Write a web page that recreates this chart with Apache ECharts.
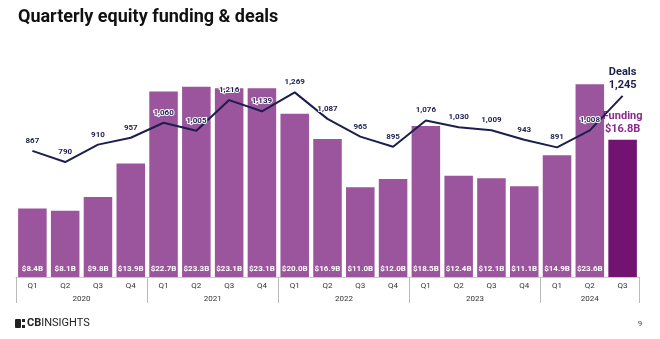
<!DOCTYPE html>
<html>
<head>
<meta charset="utf-8">
<script src="https://cdn.jsdelivr.net/npm/echarts@6/dist/echarts.min.js"></script>
<style>html,body{margin:0;padding:0;background:#fff}#c{width:660px;height:339px}</style>
</head>
<body>
<div id="c"></div>
<script>
const quarters = ['Q1','Q2','Q3','Q4','Q1','Q2','Q3','Q4','Q1','Q2','Q3','Q4','Q1','Q2','Q3','Q4','Q1','Q2','Q3'];
const years = ['2020','2021','2022','2023','2024'];
const quartersPerYear = [4,4,4,4,3];
const funding = [8.4,8.1,9.8,13.9,22.7,23.3,23.1,23.1,20.0,16.9,11.0,12.0,18.5,12.4,12.1,11.1,14.9,23.6,16.8];
const deals = [867,790,910,957,1060,1005,1216,1139,1269,1087,965,895,1076,1030,1009,943,891,1008,1245];

const BAR = '#9b559c', BAR_LAST = '#721372', NAVY = '#1c1f4e', FUND_TXT = '#8a2a8c';
const n = funding.length;

const bounds = [0]; quartersPerYear.forEach(q => bounds.push(bounds[bounds.length-1] + q));
const centres = years.map((y,i) => (bounds[i] + bounds[i+1]) / 2);

const chart = echarts.init(document.getElementById('c'), null, {renderer:'canvas'});
chart.setOption({
  animation: false,
  title: {
    text: 'Quarterly equity funding & deals', left: 13, top: 3,
    textStyle: {fontFamily:'Roboto', fontWeight:'bold', fontSize:18, color:'#111'}
  },
  grid: {left: 16, right: 21, top: 32, bottom: 62},
  xAxis: [{
    type: 'category', data: quarters, boundaryGap: true,
    axisLine: {show: true, lineStyle: {color: '#c8c8c8', width: 1}},
    axisTick: {show: false},
    axisLabel: {interval: 0, margin: 5, fontFamily:'Roboto', fontSize: 8, color: '#333'}
  }, {
    type: 'value', min: 0, max: n, position: 'bottom',
    axisLine: {show: false}, splitLine: {show: false},
    axisTick: {show: true, customValues: bounds, length: 26, inside: false, lineStyle: {color: '#bbb', width: 1}},
    axisLabel: {
      customValues: centres, margin: 18, fontFamily:'Roboto', fontSize: 8, color: '#333',
      formatter: v => { const i = centres.indexOf(v); return i >= 0 ? years[i] : ''; }
    }
  }],
  yAxis: [
    {type: 'value', min: 0, max: 30, show: false, splitLine: {show: false}},
    {type: 'value', min: 0, max: 1684, show: false, splitLine: {show: false}}
  ],
  series: [{
    type: 'bar', xAxisIndex: 0, yAxisIndex: 0, barCategoryGap: '13%',
    data: funding.map((v, i) => i === n - 1 ? {
      value: v, itemStyle: {color: BAR_LAST},
      label: {show: true, position: 'top', distance: 4, color: FUND_TXT, fontSize: 11, fontWeight: 'bold',
        fontFamily: 'Roboto', lineHeight: 13, formatter: p => 'Funding\n$' + p.value.toFixed(1) + 'B'}
    } : v),
    itemStyle: {color: BAR},
    label: {show: true, position: 'insideBottom', distance: 4, color: '#fff', fontSize: 8, fontWeight: 'bold',
      fontFamily: 'Roboto', formatter: p => '$' + p.value.toFixed(1) + 'B'}
  }, {
    type: 'line', xAxisIndex: 0, yAxisIndex: 1, symbol: 'circle', symbolSize: 0, showSymbol: true,
    itemStyle: {color: NAVY},
    lineStyle: {color: NAVY, width: 2},
    labelLayout: {hideOverlap: false},
    data: deals.map((v, i) => i === n - 1 ? {
      value: v,
      label: {show: true, position: 'top', distance: 4, color: NAVY, fontSize: 11, fontWeight: 'bold',
        fontFamily: 'Roboto', lineHeight: 13, textBorderWidth: 0,
        formatter: p => 'Deals\n' + p.value.toLocaleString('en-US')}
    } : v),
    label: {show: true, position: 'top', distance: 6, color: NAVY, fontSize: 8, fontWeight: 'bold',
      fontFamily: 'Roboto', textBorderColor: '#fff', textBorderWidth: 2,
      formatter: p => p.value.toLocaleString('en-US')}
  }],
  graphic: [
    {type: 'rect', shape: {x: 15, y: 319, width: 6, height: 9, r: 1}, style: {fill: '#222'}},
    {type: 'rect', shape: {x: 22, y: 319, width: 3, height: 3}, style: {fill: '#222'}},
    {type: 'rect', shape: {x: 22, y: 325, width: 3, height: 3}, style: {fill: '#222'}},
    {type: 'text', x: 27, y: 323.5, style: {
      text: '{b|CB}{r|INSIGHTS}', verticalAlign: 'middle',
      rich: {b: {fontFamily: 'Roboto', fontWeight: 'bold', fontSize: 11, fill: '#222'},
             r: {fontFamily: 'Roboto', fontSize: 11, fill: '#222'}}
    }},
    {type: 'text', x: 640, y: 324, style: {text: '9', fontFamily: 'Roboto', fontSize: 8, fill: '#444', align: 'center', verticalAlign: 'middle'}}
  ]
});
</script>
</body>
</html>
